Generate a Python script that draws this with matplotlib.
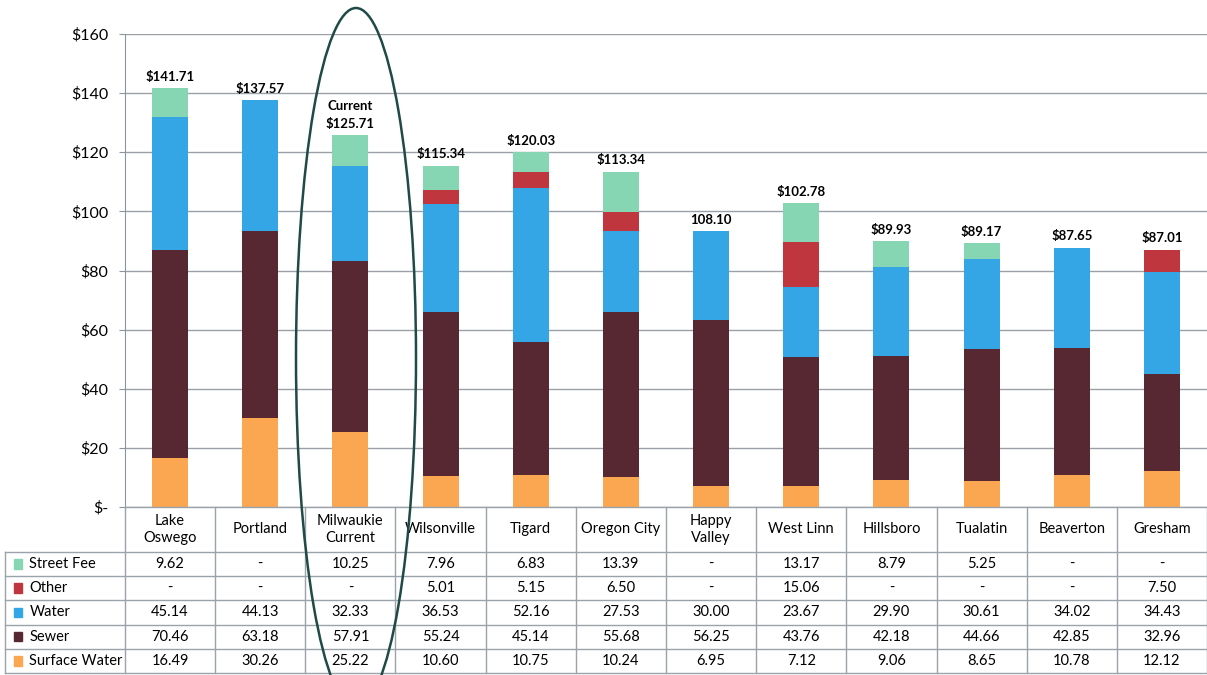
import matplotlib.pyplot as plt
import numpy as np
from matplotlib.patches import Ellipse, Rectangle

plt.rcParams['font.family'] = ['Lato', 'DejaVu Sans']

cities = ['Lake\nOswego', 'Portland', 'Milwaukie\nCurrent', 'Wilsonville', 'Tigard',
          'Oregon City', 'Happy\nValley', 'West Linn', 'Hillsboro', 'Tualatin',
          'Beaverton', 'Gresham']

surface_water = [16.49, 30.26, 25.22, 10.60, 10.75, 10.24, 6.95, 7.12, 9.06, 8.65, 10.78, 12.12]
sewer = [70.46, 63.18, 57.91, 55.24, 45.14, 55.68, 56.25, 43.76, 42.18, 44.66, 42.85, 32.96]
water = [45.14, 44.13, 32.33, 36.53, 52.16, 27.53, 30.00, 23.67, 29.90, 30.61, 34.02, 34.43]
other = [0, 0, 0, 5.01, 5.15, 6.50, 0, 15.06, 0, 0, 0, 7.50]
street_fee = [9.62, 0, 10.25, 7.96, 6.83, 13.39, 0, 13.17, 8.79, 5.25, 0, 0]

total_labels = ['$141.71', '$137.57', 'Current\n$125.71', '$115.34', '$120.03', '$113.34',
                '108.10', '$102.78', '$89.93', '$89.17', '$87.65', '$87.01']

yticks = [0, 20, 40, 60, 80, 100, 120, 140, 160]
ytick_labels = ['$-', '$20', '$40', '$60', '$80', '$100', '$120', '$140', '$160']

# stacking order bottom -> top, table order top -> bottom
series = [('Surface Water', surface_water, '#fba650'),
          ('Sewer', sewer, '#572832'),
          ('Water', water, '#34a6e6'),
          ('Other', other, '#c0363f'),
          ('Street Fee', street_fee, '#86d6b4')]

W, H = 1207, 675
fig = plt.figure(figsize=(W / 100, H / 100), dpi=100)

ax = fig.add_axes([125 / W, 1 - 507 / H, 1 - 125 / W, (507 - 34) / H])
x = np.arange(len(cities))
bottom = np.zeros(len(cities))
for name, vals, col in series:
    ax.bar(x, vals, 0.4, bottom=bottom, color=col, zorder=2)
    bottom += np.array(vals)

for xi, top, lab in zip(x, bottom, total_labels):
    ax.annotate(lab, (xi, top), xytext=(0, 4), textcoords='offset points',
                ha='center', va='bottom', fontsize=9.5, fontweight='bold', linespacing=1.6)

ax.set_xlim(-0.5, len(cities) - 0.5)
ax.set_ylim(0, 160)
ax.set_yticks(yticks)
ax.set_yticklabels(ytick_labels, fontsize=11.5)
ax.set_xticks([])
ax.yaxis.grid(True, color='#9aa0a6', linewidth=1)
ax.set_axisbelow(True)
for s in ['top', 'right', 'bottom']:
    ax.spines[s].set_visible(False)
ax.spines['left'].set_color('#8c949c')
ax.tick_params(axis='y', length=4, color='#8c949c', pad=8)

# data table below the chart
tab = fig.add_axes([125 / W, 1 - 673 / H, 1 - 125 / W, (673 - 507) / H])
hdr = 1.85
nrows = len(series)
tab.set_xlim(-0.5, len(cities) - 0.5)
tab.set_ylim(hdr + nrows, 0)
tab.axis('off')
lc = '#9aa3ab'
left = -1.83
tab.plot([-0.5, len(cities) - 0.5], [0, 0], color=lc, lw=1, clip_on=False)
for i in range(len(cities) + 1):
    tab.plot([i - 0.5, i - 0.5], [0, hdr + nrows], color=lc, lw=1, clip_on=False)
tab.plot([left, left], [hdr, hdr + nrows], color=lc, lw=1, clip_on=False)
for r in range(nrows + 1):
    tab.plot([left, len(cities) - 0.5], [hdr + r, hdr + r], color=lc, lw=1, clip_on=False)

for i, c in enumerate(cities):
    tab.text(i, hdr / 2, c, ha='center', va='center', fontsize=10.5, linespacing=1.2)

for r, (name, vals, col) in enumerate(reversed(series)):
    yc = hdr + r + 0.5
    tab.add_patch(Rectangle((left + 0.1, yc - 0.2), 0.09, 0.4, color=col, clip_on=False))
    tab.text(left + 0.27, yc, name, ha='left', va='center', fontsize=10.5)
    for i, v in enumerate(vals):
        tab.text(i, yc, f'{v:.2f}' if v else '-', ha='center', va='center', fontsize=10.5)

# hand drawn highlight around Milwaukie
fig.patches.append(Ellipse((356 / W, 1 - 358 / H), 120 / W, 700 / H, fill=False,
                           edgecolor='#1f4a46', linewidth=1.8, transform=fig.transFigure))

plt.savefig('out.png', dpi=100)
